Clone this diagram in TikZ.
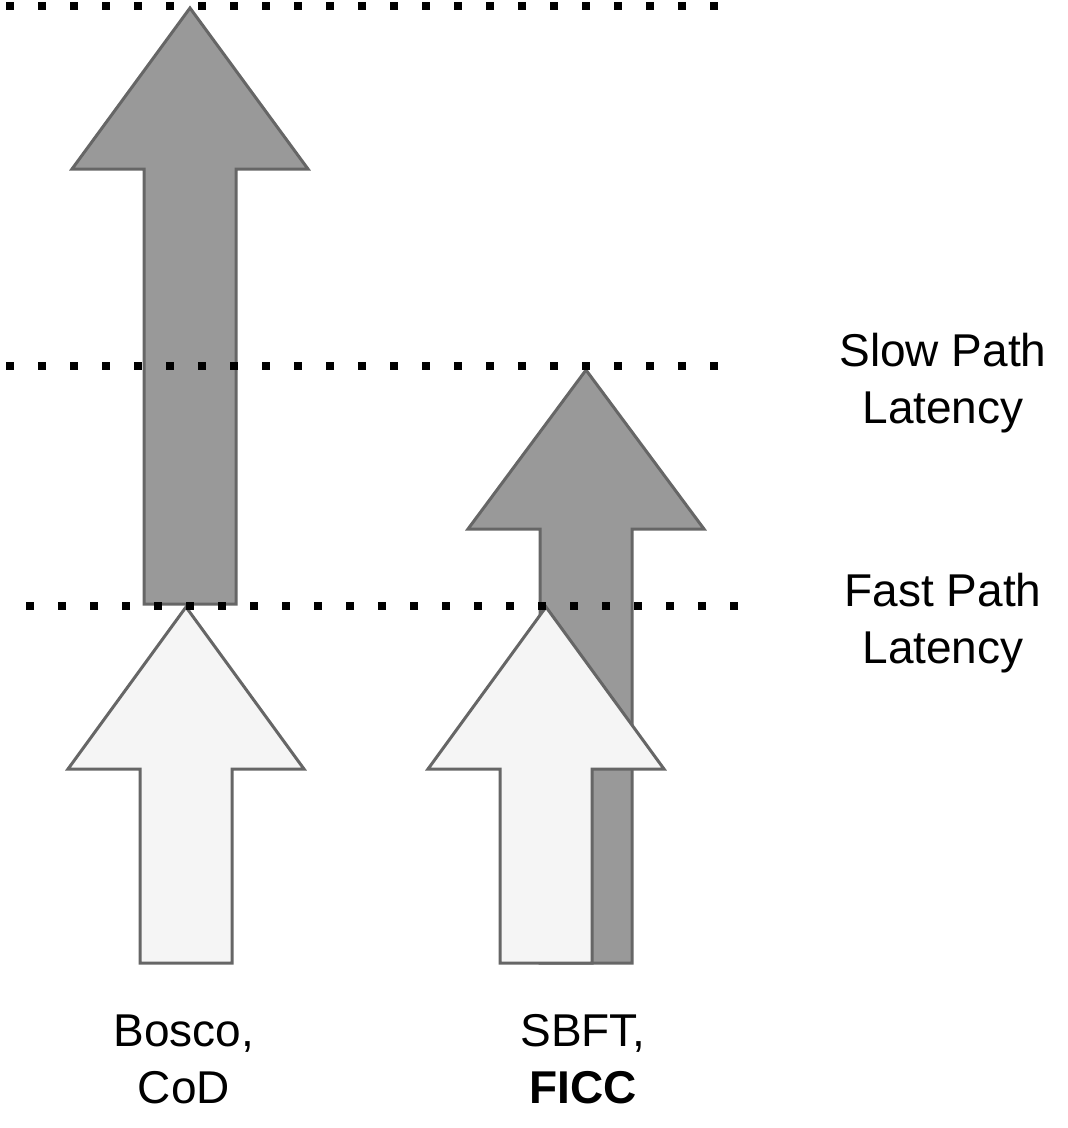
\documentclass[tikz,border=0pt]{standalone}
\usepackage{fontspec}
\setmainfont{Liberation Sans}
\definecolor{darkfill}{HTML}{999999}
\definecolor{lightfill}{HTML}{F5F5F5}
\definecolor{edge}{HTML}{666666}
\begin{document}
\begin{tikzpicture}[x=1pt,y=-1pt,
  darkarrow/.style={fill=darkfill,draw=edge,line width=3pt,line join=miter},
  lightarrow/.style={fill=lightfill,draw=edge,line width=3pt,line join=miter},
  dotline/.style={line width=8pt,dash pattern=on 8pt off 24pt,line cap=butt},
  lbl/.style={font=\fontsize{46}{57}\selectfont,align=center,anchor=base,inner sep=0pt}]
\useasboundingbox (0,0) rectangle (1068,1128);
% arrow shape: center c, tip t, head base b, bottom e
\newcommand{\uparrowshape}[5]{%
  \draw[#1] (#2,#3) -- (#2+118,#4) -- (#2+46,#4) -- (#2+46,#5) -- (#2-46,#5) -- (#2-46,#4) -- (#2-118,#4) -- cycle;}
\uparrowshape{darkarrow}{190}{8}{169}{604}
\uparrowshape{lightarrow}{186}{607}{769}{963}
\uparrowshape{darkarrow}{586}{370}{529}{963}
\uparrowshape{lightarrow}{546}{607}{769}{963}
% dotted levels
\coordinate (t1) at (6,6);   \coordinate (t2) at (720,6);
\coordinate (m1) at (6,366); \coordinate (m2) at (720,366);
\coordinate (b1) at (26,606); \coordinate (b2) at (740,606);
\draw[dotline] (t1) -- (t2);
\draw[dotline] (m1) -- (m2);
\draw[dotline] (b1) -- (b2);
% labels (base anchor = baseline of last line)
\node[lbl] (slow) at (943,423) {Slow Path\\Latency};
\node[lbl] (fast) at (943,663) {Fast Path\\Latency};
\node[lbl] (bosco) at (184,1103) {Bosco,\\CoD};
\node[lbl] (sbft) at (583,1103) {SBFT,\\\textbf{FICC}};
\end{tikzpicture}
\end{document}
